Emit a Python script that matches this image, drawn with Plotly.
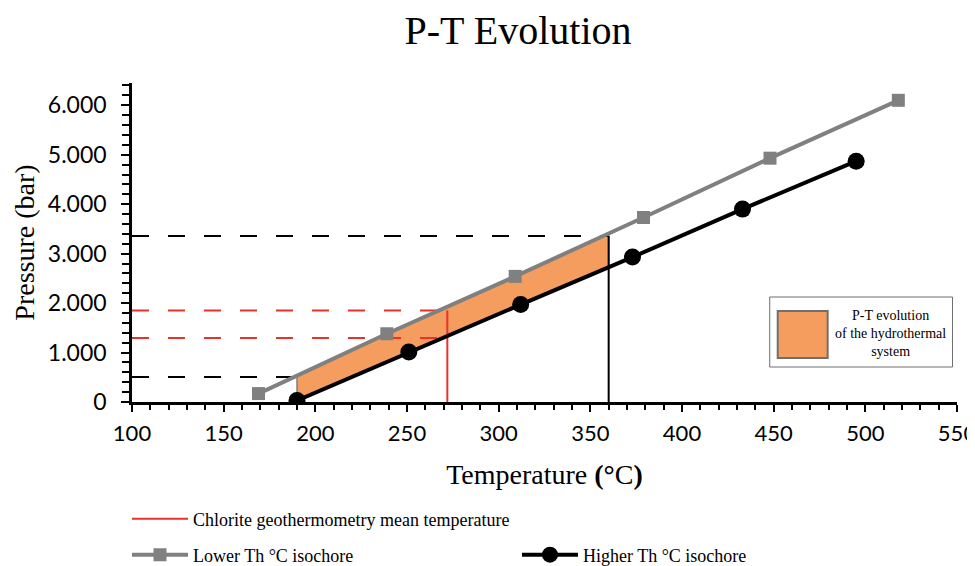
import numpy as np
import plotly.graph_objects as go

# ---------------- data ----------------
T_lower = [169, 239, 309, 379, 448, 518]
P_lower = [170, 1380, 2540, 3730, 4930, 6100]

T_higher = [190, 251, 312, 373, 433, 495]
P_higher = [30, 1010, 1970, 2930, 3900, 4870]

# P-T evolution field bounds (temperature) and their pressure guide lines
field_T = [190, 360]
field_P = [505, 3357]

# chlorite geothermometry mean temperature and its pressure range
chl_T = 272
chl_P = [1295, 1852]

x_ticks = [100, 150, 200, 250, 300, 350, 400, 450, 500, 550]
y_ticks = [0, 1000, 2000, 3000, 4000, 5000, 6000]
y_ticktext = ["0", "1.000", "2.000", "3.000", "4.000", "5.000", "6.000"]

# ---------------- figure ----------------
SERIF = "Liberation Serif, Times New Roman, serif"
SANS = "Lato, Liberation Sans, sans-serif"
ORANGE = "#F59D5E"
GRAY = "#808080"
RED = "#E8322A"

# page offset of the plot div (browser body margin)
OFF = 8
W, H = 975, 566
ML, MT, PW, PH = 131.5 - OFF, 83 - OFF, 826, 319


def px_x(px):  # screen x -> paper x
    return (px - OFF - ML) / PW


def px_y(py):  # screen y -> paper y
    return (MT + PH - (py - OFF)) / PH


fig = go.Figure()

# shaded P-T field between the two isochores
top_T = [field_T[0]] + [t for t in T_lower if field_T[0] < t < field_T[1]] + [field_T[1]]
bot_T = [field_T[1]] + [t for t in T_higher[::-1] if field_T[0] < t < field_T[1]] + [field_T[0]]
top_P = list(np.interp(top_T, T_lower, P_lower))
bot_P = list(np.interp(bot_T, T_higher, P_higher))
fig.add_trace(go.Scatter(
    x=top_T + bot_T + [top_T[0]], y=top_P + bot_P + [top_P[0]],
    mode="lines", fill="toself", fillcolor=ORANGE,
    line=dict(color=GRAY, width=1.5), showlegend=False, hoverinfo="skip"))

dash = "17px,19px"
# black dashed guide lines
for t, p in zip(field_T, field_P):
    fig.add_trace(go.Scatter(x=[100, t], y=[p, p], mode="lines",
                             line=dict(color="black", width=2, dash=dash), showlegend=False))
# black vertical at upper bound
fig.add_trace(go.Scatter(x=[field_T[1], field_T[1]], y=[0, field_P[1]], mode="lines",
                         line=dict(color="black", width=2), showlegend=False))

# red dashed guide lines
for p in chl_P:
    fig.add_trace(go.Scatter(x=[100, chl_T], y=[p, p], mode="lines",
                             line=dict(color=RED, width=2, dash=dash), showlegend=False))

# red chlorite line
fig.add_trace(go.Scatter(x=[chl_T, chl_T], y=[0, chl_P[1]], mode="lines",
                         line=dict(color=RED, width=2),
                         name="Chlorite geothermometry mean temperature", legend="legend"))

# isochores
fig.add_trace(go.Scatter(x=T_lower, y=P_lower, mode="lines+markers",
                         line=dict(color=GRAY, width=4),
                         marker=dict(symbol="square", size=13, color=GRAY),
                         name="Lower Th °C isochore", legend="legend2"))
fig.add_trace(go.Scatter(x=T_higher, y=P_higher, mode="lines+markers",
                         line=dict(color="black", width=4),
                         marker=dict(symbol="circle", size=17, color="black"),
                         name="Higher Th °C isochore", legend="legend3"))

# manual legend box for the shaded field
fig.add_shape(type="rect", xref="paper", yref="paper",
              x0=px_x(770), x1=px_x(953), y0=px_y(367), y1=px_y(297),
              line=dict(color="#6f6f6f", width=1), fillcolor="white", layer="above")
fig.add_shape(type="rect", xref="paper", yref="paper",
              x0=px_x(778), x1=px_x(828), y0=px_y(358), y1=px_y(311),
              line=dict(color="#6f6f6f", width=2), fillcolor=ORANGE, layer="above")
fig.add_annotation(xref="paper", yref="paper", x=px_x(891), y=px_y(333),
                   text="P-T evolution<br>of the hydrothermal<br>system", showarrow=False,
                   font=dict(family=SERIF, size=14, color="black"), align="center",
                   xanchor="center", yanchor="middle")

# y axis title
fig.add_annotation(xref="paper", yref="paper", x=px_x(24), y=px_y(243),
                   text="Pressure (bar)", textangle=-90, showarrow=False,
                   font=dict(family=SERIF, size=28, color="black"),
                   xanchor="center", yanchor="middle")

legend_common = dict(font=dict(family=SERIF, size=18, color="black"),
                     bgcolor="rgba(0,0,0,0)", borderwidth=0,
                     xref="container", yref="container",
                     xanchor="left", yanchor="middle", itemwidth=56)

fig.update_layout(
    width=W, height=H,
    paper_bgcolor="white", plot_bgcolor="white",
    margin=dict(l=ML, r=W - ML - PW, t=MT, b=H - MT - PH, autoexpand=False),
    title=dict(text="P-T Evolution", font=dict(family=SERIF, size=40, color="black"),
               x=(518 - OFF) / W, xref="container", xanchor="center",
               y=1 - (30 - OFF) / H, yref="container", yanchor="middle"),
    xaxis=dict(range=[100, 550], tickvals=x_ticks, ticktext=[str(v) for v in x_ticks],
               showgrid=False, zeroline=False, showline=True, linecolor="black", linewidth=2.5,
               ticks="outside", ticklen=7, tickwidth=2, tickcolor="black",
               minor=dict(dtick=10, ticks="outside", ticklen=5, tickwidth=2, tickcolor="black"),
               tickfont=dict(family=SANS, size=22, color="black"),
               ticklabelstandoff=3,
               title=dict(text="Temperature <b>(°</b>C<b>)</b>",
                          font=dict(family=SERIF, size=28, color="black"), standoff=20),
               automargin=False),
    yaxis=dict(range=[0, 6450], tickvals=y_ticks, ticktext=y_ticktext,
               showgrid=False, zeroline=False, showline=True, linecolor="black", linewidth=2.5,
               ticks="outside", ticklen=8, tickwidth=2, tickcolor="black",
               minor=dict(dtick=200, ticks="outside", ticklen=7, tickwidth=2, tickcolor="black"),
               tickfont=dict(family=SANS, size=23, color="black"),
               ticklabelstandoff=10,
               automargin=False),
    legend=dict(x=(132 - OFF - 5) / W, y=1 - (519 - OFF) / H, **legend_common),
    legend2=dict(x=(132 - OFF - 5) / W, y=1 - (555 - OFF) / H, **legend_common),
    legend3=dict(x=(522 - OFF - 5) / W, y=1 - (555 - OFF) / H, **legend_common),
)

fig.write_html("out.html")
